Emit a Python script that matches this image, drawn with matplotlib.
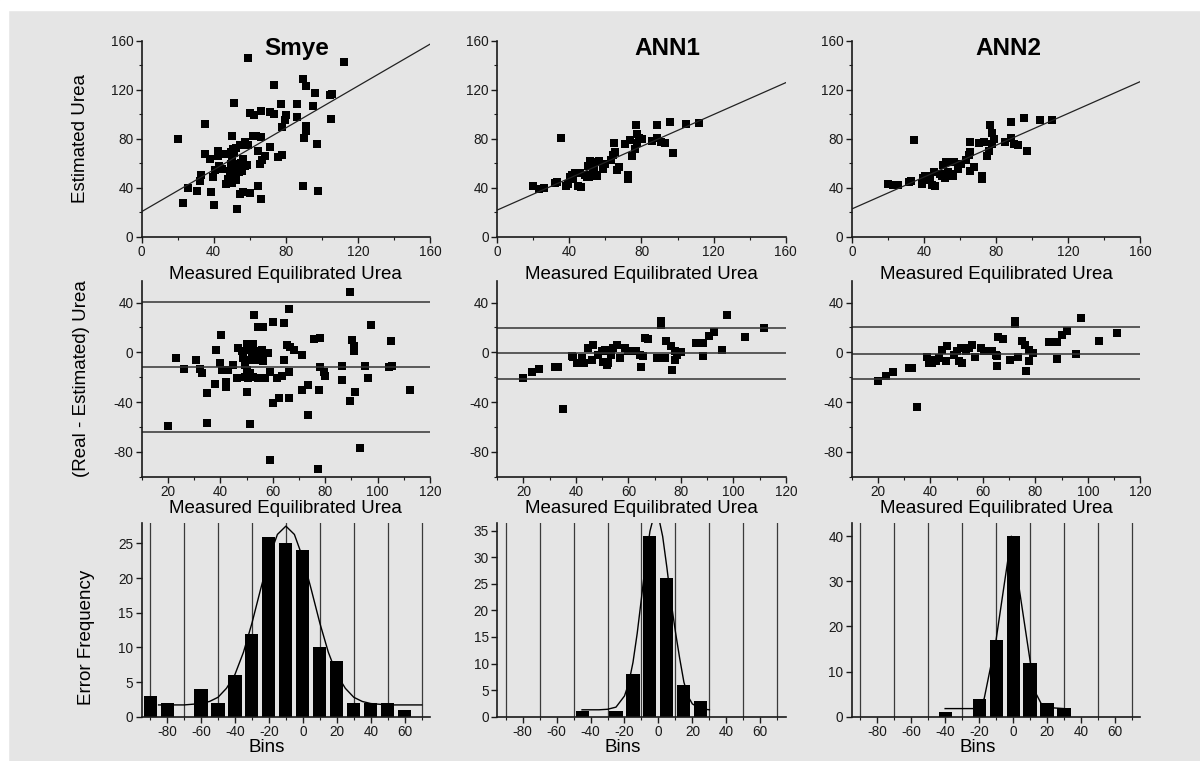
"""Smye vs ANN1 vs ANN2: scatter, difference plot and error histogram for each method."""
import matplotlib
matplotlib.use("Agg")
import matplotlib.pyplot as plt
from matplotlib.patches import Rectangle
from matplotlib.ticker import MultipleLocator

plt.rcParams["font.family"] = ["Liberation Sans", "DejaVu Sans"]
plt.rcParams["axes.unicode_minus"] = False

BG = "#e5e5e5"

# --- data ---------------------------------------------------------------
# measured equilibrated urea and (real - estimated) difference per patient
smye_meas = [20, 23, 26, 30.9, 32.1, 33.2, 35, 35, 37.9, 38.2, 40.1,
             39.8, 40.5, 42.1, 42.1, 43, 44.7, 46.2, 46.8, 48.1, 48.8,
             49.4, 49.4, 50, 50, 50, 50.7, 50.7, 51.3, 51.3, 51.3,
             52, 52.6, 52.6, 53, 53.2, 53.9, 54.5, 54.5, 55.1, 55.8,
             56.2, 56.4, 57.1, 57.1, 58.3, 59, 59, 60, 60, 61.5,
             62.5, 63.4, 64.3, 64.3, 65.4, 66, 66.1, 66, 66.6, 68.2,
             71.1, 71.1, 73.3, 73.6, 75.6, 77.2, 77.5, 77.9, 78.1, 79.4, 80,
             86.4, 86.4, 89.3, 89.3, 90.2, 91.1, 91.1, 91.3, 93.4, 95.3,
             96.2, 97.3, 98, 104.3, 105.2, 105.6, 112.3]
smye_diff = [-59.5, -4.4, -13.4, -6, -13.7, -17, -32.6, -57, -25.2, 2.1, 14,
             -8.8, -14.3, -23.8, -28, -14.3, -10.2, -21, 3.5, 0.8, -4.7,
             -10.2, -19.7, 6.3, -14.3, -32, -6, -21, 2.1, -17, -57.5,
             -3.3, 6.3, -19.7, 30.4, -6, 0.8, 20, -20.5, -4.7, 2.1,
             20, -6.9, -0.6, -20.5, -0.6, -15.6, -86.8, 24.3, -40.8, -21,
             -37, -18.9, 23.3, -6, 5.8, -15.6, 35, -36.7, 4.1, 2.1,
             -2, -30.7, -50.4, -26.6, 10.4, -93.7, -30.7, 11.2, -11.5, -15.6, -18.9,
             -11, -22, 48.2, -39, 9.9, 4.9, 0.8, -32, -77, -11,
             -21, 22, 61, -11.5, 9, -11, -30]

ann1_meas = [20, 23.2, 26.1, 32, 33.3, 35.2, 38.4, 39, 40.3, 41.5,
             42.2, 42.2, 43, 44.7, 46, 46.6, 48.5, 49.8, 50.4, 51,
             51.7, 52.3, 52.9, 53.5, 54.2, 55.5, 56.7, 58.6, 59.9, 63.1,
             64.3, 65, 65.6, 66.2, 67.5, 70.9, 72.6, 72.6, 73.8, 74.5,
             76.4, 76.7, 77.6, 77.6, 78.5, 80.1, 85.6, 88.6, 88.6, 90.6,
             92.8, 95.7, 97.5, 104.6, 111.8]
ann1_diff = [-21, -15.6, -13.7, -11.5, -11.5, -45.2, -3.3, -4, -8.8, -8.8,
             -4.7, -7.4, -8.8, 3.5, -6, 6.2, -2, 0.8, -7.4, 2.1,
             -10.2, -8.8, 0.8, -1.9, 3.5, 6.2, -4.7, 3.5, 0.8, 0.8,
             -2, -11.5, -3.3, 11.8, 10.4, -4.7, 25.5, 21.9, -4.7, 9,
             4.9, -14.3, 0.8, -6, -2, 0, 7.7, 7.7, -2.7, 13.2,
             16.4, 2.2, 29.6, 12.6, 19.2]

ann2_meas = [20, 22.9, 25.8, 31.8, 33.1, 34.7, 38.8, 39.4, 40.1, 40.7,
             42, 43.2, 44.5, 45.8, 46.4, 48.9, 50.2, 50.8, 51.5, 52.1,
             53.4, 54.6, 55.9, 56.9, 59.1, 60.4, 63.5, 64.8, 65.5, 65.5,
             65.8, 67.6, 70.5, 72.4, 72.4, 73.5, 74.7, 76.2, 76.6, 77.5,
             77.5, 79, 85.1, 88.3, 88.3, 90.2, 92.1, 95.3, 97.4, 104.1,
             111.1]
ann2_diff = [-22.7, -18.9, -16.2, -12.7, -12.7, -44.3, -3.8, -8.6, -6, -8.6,
             -7.3, -4.6, 2.1, -7.3, 4.9, -1.9, 0.8, -7.3, 3.5, -8.7,
             0.8, 3.5, 6.2, -3.8, 3.5, 0.8, 0.8, -2, -3.3, -11.4,
             12.2, 11, -5.9, 25.1, 23, -4, 8.9, 6.2, -14.9, 2.1,
             -7.3, -0.6, 8.1, 8.1, -5.4, 14.3, 17, -1.6, 27.8, 8.9,
             15.7]

# regression line of estimated on measured: (intercept, slope)
smye_fit = (20.4, 0.855)
ann1_fit = (21.7, 0.65)
ann2_fit = (22.6, 0.65)

# difference plot: mean, upper and lower limit
smye_limits = (-11.8, 40.2, -63.8)
ann1_limits = (-0.5, 19.2, -21.1)
ann2_limits = (-1.1, 20.5, -21.6)

# error histograms
smye_bins = [-90, -80, -60, -50, -40, -30, -20, -10, 0, 10, 20, 30, 40, 50, 60]
smye_counts = [3, 2, 4, 2, 6, 12, 26, 25, 24, 10, 8, 2, 2, 2, 1]
ann1_bins = [-45, -25, -15, -5, 5, 15, 25]
ann1_counts = [1, 1, 8, 34, 26, 6, 3]
ann2_bins = [-40, -20, -10, 0, 10, 20, 30]
ann2_counts = [1, 4, 17, 40, 12, 3, 2]

# fitted curves over the histograms
smye_curve_x = [-85, -80, -75, -70, -65, -60, -55, -50, -45, -40, -35, -30, -25, -20, -15, -10,
                -5, 0, 5, 10, 15, 20, 25, 30, 35, 40, 45, 50, 55, 60, 65, 70]
smye_curve_y = [1.7, 1.7, 1.7, 1.7, 1.8, 1.9, 2.2, 2.8, 4.1, 6.1, 9.3, 13.5, 18.3, 22.9, 26.3, 27.5,
                26.3, 22.9, 18.3, 13.5, 9.3, 6.1, 4.1, 2.8, 2.2, 1.9, 1.8, 1.7, 1.7, 1.7, 1.7, 1.7]
ann1_curve_x = [-45, -40, -35, -30, -25, -20, -17.5, -15, -12.5, -10, -7.5, -5, -2.5, 0,
                2.5, 5, 7.5, 10, 12.5, 15, 17.5, 20, 25, 30]
ann1_curve_y = [1.3, 1.3, 1.3, 1.4, 1.8, 3.9, 6.3, 10.2, 15.7, 22.3, 29.2, 34.9, 38, 37.7,
                33.9, 28, 21.5, 16, 11, 6.5, 3.8, 2.4, 1.5, 1.3]
ann2_curve_x = [-40, -22, -17, -10, -1, 10, 13, 17, 22, 30]
ann2_curve_y = [1.8, 1.8, 4, 17, 40, 12.5, 5.5, 2.6, 2, 1.8]

hist_grid = [-90, -70, -50, -30, -10, 10, 30, 50, 70]

# --- layout (figure fractions) ------------------------------------------
COL_LEFT = [0.118, 0.4143, 0.7098]
COL_W = 0.2405
ROW_BOTTOM = [0.689, 0.3736, 0.0582]
ROW_H = [0.2576, 0.2566, 0.255]

TICK_FS = 9.8
LABEL_FS = 13.5


def style_axes(ax):
    ax.set_facecolor("none")
    for side in ("top", "right"):
        ax.spines[side].set_visible(False)
    for side in ("left", "bottom"):
        ax.spines[side].set_linewidth(1.2)
        ax.spines[side].set_color("#1a1a1a")
    ax.tick_params(which="major", direction="out", length=4, width=1, labelsize=TICK_FS, pad=2, colors="#1a1a1a")
    ax.tick_params(which="minor", direction="out", length=2.5, width=0.8, colors="#1a1a1a")


def plot_scatter(ax, meas, diff, fit, title, title_x, first):
    est = [m - d for m, d in zip(meas, diff)]
    ax.plot(meas, est, "s", color="black", markersize=5.3, markeredgewidth=0)
    b0, b1 = fit
    ax.plot([0, 160], [b0, b0 + b1 * 160], color="#222222", linewidth=0.9)
    ax.set_xlim(0, 160)
    ax.set_ylim(0, 160)
    ax.xaxis.set_major_locator(MultipleLocator(40))
    ax.xaxis.set_minor_locator(MultipleLocator(20))
    ax.yaxis.set_major_locator(MultipleLocator(40))
    ax.yaxis.set_minor_locator(MultipleLocator(20))
    style_axes(ax)
    ax.set_xlabel("Measured Equilibrated Urea", fontsize=LABEL_FS)
    ax.xaxis.set_label_coords(0.5, -0.15)
    if first:
        ax.set_ylabel("Estimated Urea", fontsize=LABEL_FS)
        ax.yaxis.set_label_coords(-0.183, 0.5)
    ax.text(title_x, 0.96, title, transform=ax.transAxes, ha="center", va="center",
            fontsize=17.5, fontweight="bold")


def plot_diff(ax, meas, diff, limits, first):
    ax.plot(meas, diff, "s", color="black", markersize=5.3, markeredgewidth=0)
    for level in limits:
        ax.axhline(level, color="#333333", linewidth=1.1)
    ax.set_xlim(10, 120)
    ax.set_ylim(-100, 57)
    ax.xaxis.set_major_locator(MultipleLocator(20))
    ax.xaxis.set_minor_locator(MultipleLocator(10))
    ax.yaxis.set_major_locator(MultipleLocator(40))
    ax.yaxis.set_minor_locator(MultipleLocator(20))
    style_axes(ax)
    ax.set_xlabel("Measured Equilibrated Urea", fontsize=LABEL_FS)
    ax.xaxis.set_label_coords(0.5, -0.12)
    if first:
        ax.set_ylabel("(Real - Estimated) Urea", fontsize=LABEL_FS)
        ax.yaxis.set_label_coords(-0.18, 0.5)


def plot_hist(ax, bins, counts, curve_x, curve_y, ymax, ystep, first):
    ax.set_xticks(hist_grid, minor=True)
    ax.grid(which="minor", axis="x", color="#3a3a3a", linewidth=0.9)
    ax.set_axisbelow(True)
    ax.bar(bins, counts, width=7.7, color="black", zorder=2)
    ax.plot(curve_x, curve_y, color="black", linewidth=1.0, zorder=3)
    ax.set_xlim(-95, 75)
    ax.set_ylim(0, ymax)
    ax.xaxis.set_major_locator(MultipleLocator(20))
    ax.yaxis.set_major_locator(MultipleLocator(ystep))
    style_axes(ax)
    ax.set_xlabel("Bins", fontsize=LABEL_FS)
    ax.xaxis.set_label_coords(0.435, -0.115)
    if first:
        ax.set_ylabel("Error Frequency", fontsize=LABEL_FS)
        ax.yaxis.set_label_coords(-0.16, 0.41)


def main():
    fig = plt.figure(figsize=(12, 7.61), dpi=100, facecolor=BG)
    # white scan margin along the top and left edge
    fig.add_artist(Rectangle((0, 0), 8 / 1200, 1, transform=fig.transFigure, color="white", zorder=0))
    fig.add_artist(Rectangle((0, 1 - 10 / 761), 1, 10 / 761, transform=fig.transFigure, color="white", zorder=0))

    methods = [
        ("Smye", smye_meas, smye_diff, smye_fit, smye_limits, smye_bins, smye_counts,
         smye_curve_x, smye_curve_y, 28, 5, 0.538),
        ("ANN1", ann1_meas, ann1_diff, ann1_fit, ann1_limits, ann1_bins, ann1_counts,
         ann1_curve_x, ann1_curve_y, 36.5, 5, 0.59),
        ("ANN2", ann2_meas, ann2_diff, ann2_fit, ann2_limits, ann2_bins, ann2_counts,
         ann2_curve_x, ann2_curve_y, 43, 10, 0.541),
    ]
    for col, (name, meas, diff, fit, limits, bins, counts, cx, cy, ymax, ystep, tx) in enumerate(methods):
        first = col == 0
        ax1 = fig.add_axes([COL_LEFT[col], ROW_BOTTOM[0], COL_W, ROW_H[0]])
        plot_scatter(ax1, meas, diff, fit, name, tx, first)
        ax2 = fig.add_axes([COL_LEFT[col], ROW_BOTTOM[1], COL_W, ROW_H[1]])
        plot_diff(ax2, meas, diff, limits, first)
        ax3 = fig.add_axes([COL_LEFT[col], ROW_BOTTOM[2], COL_W, ROW_H[2]])
        plot_hist(ax3, bins, counts, cx, cy, ymax, ystep, first)

    fig.savefig("out.png", dpi=100, facecolor=BG)
    plt.close(fig)


if __name__ == "__main__":
    main()
